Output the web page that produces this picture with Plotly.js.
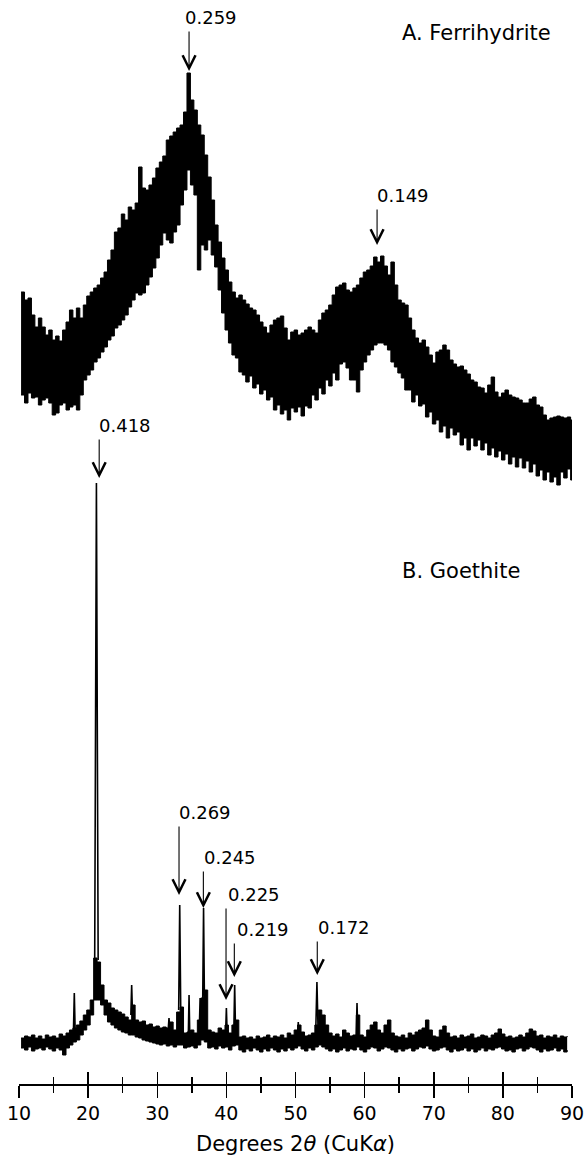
<!DOCTYPE html>
<html><head><meta charset="utf-8">
<script src="https://cdn.plot.ly/plotly-3.0.1.min.js"></script>
<style>html,body{margin:0;padding:0;background:#fff}</style>
</head><body><div id="chart" style="width:584px;height:1159px"></div>
<script>
// ---- DATA ----
// sampling grid of the read-off envelopes, degrees 2-theta
const X_START = 10.3, X_STEP = 0.5;

// A. Ferrihydrite: upper and lower edge of the noisy trace (stacked intensity units)
const ferriTop = [
 808,800,802,785,773,782,773,765,770,760,
 764,759,770,778,790,782,792,782,795,804,
 808,812,815,822,828,840,850,868,872,886,
 880,893,890,897,933,912,910,915,922,932,
 938,944,960,964,968,972,975,988,1027,1000,
 990,975,965,945,923,900,875,858,842,830,
 818,808,802,805,800,796,792,790,785,778,
 773,767,775,780,782,784,772,760,768,770,
 765,767,770,773,770,767,780,787,790,795,
 805,813,815,817,810,808,812,815,822,828,
 830,834,843,838,844,834,825,838,815,800,
 797,795,782,770,762,757,760,753,745,737,
 748,750,755,750,740,736,733,734,730,726,
 720,718,713,712,707,715,723,708,703,707,
 710,705,703,702,700,697,697,701,703,695,
 693,685,680,682,683,684,683,682,683,680,680];
const ferriBottom = [
 705,697,707,702,703,695,700,702,697,685,
 687,695,697,690,693,695,690,705,720,725,
 730,738,742,748,753,760,764,772,775,780,
 785,793,800,807,805,807,815,823,832,842,
 855,867,860,857,868,875,895,910,930,915,
 905,830,855,850,860,845,833,810,787,770,
 757,745,742,728,725,718,724,712,716,706,
 710,700,703,690,695,686,690,680,692,688,
 693,684,694,692,705,700,712,706,720,714,
 727,720,736,738,732,720,720,708,730,738,
 745,750,755,757,757,755,750,738,733,727,
 722,710,710,698,705,694,696,683,688,676,
 680,668,674,662,672,665,668,655,662,650,
 662,654,660,650,657,645,652,643,649,640,
 646,636,643,633,642,632,639,628,636,624,
 630,620,628,618,623,615,628,622,631,620,626];

// B. Goethite: upper and lower edge of the baseline trace
const goethTop = [
 62,64,63,65,62,64,61,65,63,64,
 62,66,64,67,70,72,75,79,85,90,
 100,142,138,115,100,97,92,90,88,86,
 83,80,95,80,78,79,75,76,73,74,
 72,73,72,78,70,88,93,67,68,70,
 67,80,102,110,70,68,67,72,70,75,
 67,75,80,63,64,62,63,61,64,62,
 63,65,62,64,63,65,62,67,65,70,
 75,68,64,65,67,75,90,85,75,67,
 64,66,63,70,67,64,65,85,65,63,
 70,75,78,70,67,75,80,67,64,63,
 65,62,67,65,68,70,72,80,70,64,
 63,70,74,67,63,64,62,65,63,64,
 66,62,63,65,64,62,65,67,71,66,
 63,64,62,63,65,63,67,71,69,64,
 65,62,64,63,65,62,64,63,64];
const goethBottom = [
 52,50,53,49,51,52,50,53,51,49,
 52,50,45,52,55,58,60,65,70,75,
 85,100,100,95,85,78,75,72,70,68,
 67,65,65,63,62,60,59,58,57,56,
 55,56,54,55,53,55,55,52,53,54,
 52,55,60,58,52,53,51,54,52,53,
 50,54,55,50,48,51,49,52,50,48,
 51,49,52,50,48,51,49,52,50,52,
 54,51,49,52,50,53,55,53,51,49,
 51,48,50,52,49,51,50,53,50,48,
 51,53,52,49,51,53,52,50,48,51,
 49,51,52,49,51,53,52,54,51,49,
 50,52,53,50,48,51,49,50,52,49,
 51,48,50,52,49,51,50,52,53,51,
 49,50,48,51,52,49,51,53,52,50,
 48,51,49,50,52,49,51,48,50];

// Goethite sharp reflections
const peakPos       = [18.0, 21.2, 26.3, 31.7, 33.25, 34.6, 36.2, 36.7, 40.0, 41.2, 50.4, 53.1, 58.9];
const peakTop       = [107, 617, 115, 82, 195, 105, 102, 192, 92, 115, 78, 118, 97];
const peakBase      = [70, 140, 85, 72, 90, 67, 75, 80, 65, 70, 62, 75, 65];
const peakHalfWidth = [0.12, 0.25, 0.12, 0.1, 0.15, 0.1, 0.1, 0.15, 0.12, 0.12, 0.1, 0.15, 0.12];

// d-spacing labels (nm)
const labelText = ['0.259','0.149','0.418','0.269','0.245','0.225','0.219','0.172'];
const labelPos  = [34.6, 61.8, 21.6, 33.15, 36.67, 39.95, 41.15, 53.15];
const labelTip  = [1029, 855, 622, 205, 192, 100, 123, 125];

const panelLabels = ['A. Ferrihydrite', 'B. Goethite'];
const tickVals = [10, 20, 30, 40, 50, 60, 70, 80, 90];
const tickText = ['10','20','30','40','50','60','70','80','90'];

// ---- STYLE ----
const arrowLen    = [41, 37, 40, 70, 38, 93, 35, 35];
const labelXShift = [-6, -2, -2, -2, -1, 0, 1, -1];
const panelPos    = [[0.689, 0.9696], [0.689, 0.4732]];
const FONT = 'DejaVu Sans, Arial, sans-serif';

function grid(n) { const a = []; for (let i = 0; i < n; i++) a.push(+(X_START + i * X_STEP).toFixed(2)); return a; }

const xf = grid(ferriTop.length);
const xg = grid(goethTop.length);

const px = [], py = [];
peakPos.forEach((p, i) => {
  px.push(p - peakHalfWidth[i], p, p + peakHalfWidth[i], null);
  py.push(peakBase[i], peakTop[i], peakBase[i], null);
});

const band = {mode: 'lines', line: {color: '#000', width: 1, shape: 'hv'}, hoverinfo: 'skip'};
const traces = [
  Object.assign({x: xf, y: ferriBottom}, band),
  Object.assign({x: xf, y: ferriTop, fill: 'tonexty', fillcolor: '#000'}, band),
  Object.assign({x: xg, y: goethBottom}, band),
  Object.assign({x: xg, y: goethTop, fill: 'tonexty', fillcolor: '#000'}, band),
  {x: px, y: py, mode: 'lines', line: {color: '#000', width: 1.6}, connectgaps: false, hoverinfo: 'skip'}
];

const annotations = [];
labelText.forEach((t, i) => {
  annotations.push({x: labelPos[i], y: labelTip[i], xref: 'x', yref: 'y', text: '', showarrow: true,
    ax: 0, ay: -arrowLen[i], arrowhead: 5, arrowsize: 2.3, arrowwidth: 1.1, arrowcolor: '#000', standoff: 0});
  annotations.push({x: labelPos[i], y: labelTip[i], xref: 'x', yref: 'y', text: t, showarrow: false,
    xanchor: 'left', yanchor: 'bottom', yshift: arrowLen[i], xshift: labelXShift[i],
    font: {family: FONT, size: 18, color: '#000'}});
});
panelLabels.forEach((t, i) => {
  annotations.push({x: panelPos[i][0], y: panelPos[i][1], xref: 'paper', yref: 'paper', text: t, showarrow: false,
    xanchor: 'left', yanchor: 'middle', font: {family: FONT, size: 21, color: '#000'}});
});

const layout = {
  width: 584, height: 1159,
  margin: {l: 19, r: 12, t: 0, b: 75},
  paper_bgcolor: '#fff', plot_bgcolor: '#fff',
  showlegend: false,
  font: {family: FONT, color: '#000'},
  xaxis: {
    range: [10, 90], showgrid: false, zeroline: false,
    showline: true, linecolor: '#000', linewidth: 1.5,
    ticks: 'outside', ticklen: 12, tickwidth: 1.5, tickcolor: '#000',
    tickvals: tickVals, ticktext: tickText, ticklabeloverflow: 'allow',
    tickfont: {family: FONT, size: 19, color: '#000'},
    minor: {dtick: 5, tick0: 5, ticks: 'outside', ticklen: 7, tickwidth: 1.5, tickcolor: '#000', showgrid: false},
    title: {text: 'Degrees 2<i>θ</i> (CuK<i>α</i>)', font: {family: FONT, size: 21, color: '#000'}, standoff: 13},
    automargin: false
  },
  xaxis2: {
    overlaying: 'x', anchor: 'y', side: 'bottom', matches: 'x', range: [10, 90],
    showgrid: false, zeroline: false, showline: false, showticklabels: false,
    ticks: 'inside', ticklen: 12, tickwidth: 1.5, tickcolor: '#000',
    tickvals: tickVals,
    minor: {dtick: 5, tick0: 5, ticks: 'inside', ticklen: 7, tickwidth: 1.5, tickcolor: '#000', showgrid: false}
  },
  yaxis: {range: [16, 1100], visible: false, showgrid: false, zeroline: false},
  annotations: annotations
};
traces.push({x: [10, 90], y: [null, null], xaxis: 'x2', mode: 'lines', hoverinfo: 'skip'});

Plotly.newPlot('chart', traces, layout, {staticPlot: true, displayModeBar: false});
</script></body></html>
